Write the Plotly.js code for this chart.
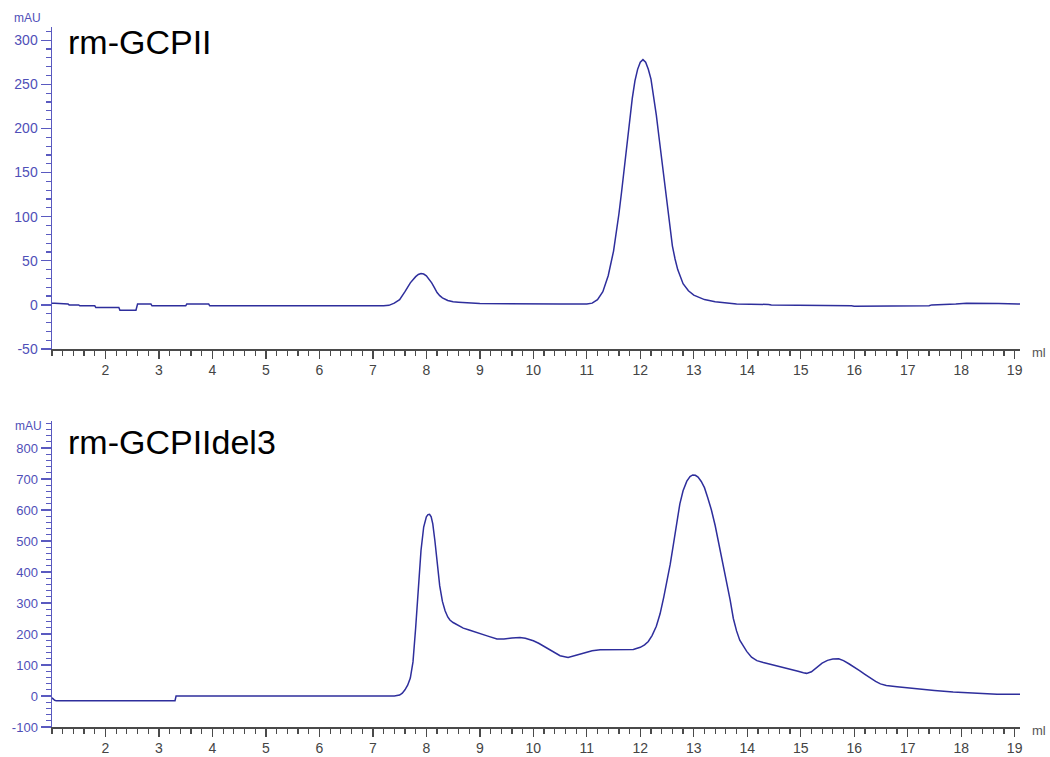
<!DOCTYPE html>
<html>
<head>
<meta charset="utf-8">
<script src="https://cdn.plot.ly/plotly-3.0.1.min.js"></script>
<style>html,body{margin:0;padding:0;background:#fff;}#chart{width:1050px;height:757px;}</style>
</head>
<body>
<div id="chart"></div>
<script>
// ---- Data (elution volume in ml, absorbance in mAU) ----
const topTitle = "rm-GCPII";
const bottomTitle = "rm-GCPIIdel3";

const topVolume = [1.0, 1.05, 1.3, 1.32, 1.5, 1.52, 1.8, 1.82, 2.25, 2.27, 2.57, 2.6, 2.85, 2.87, 3.5, 3.52, 3.93, 3.95,
  7.2, 7.3, 7.4, 7.5, 7.6, 7.7, 7.8, 7.85, 7.9, 7.95, 8.0, 8.05, 8.1, 8.15, 8.2, 8.25, 8.3, 8.4, 8.5, 8.6, 8.8, 9.0, 10.5, 10.9,
  11.0, 11.1, 11.2, 11.3, 11.4, 11.5, 11.55, 11.6, 11.65, 11.7, 11.75, 11.8, 11.85, 11.9, 11.95, 12.0, 12.05, 12.1, 12.15,
  12.2, 12.25, 12.3, 12.35, 12.4, 12.45, 12.5, 12.55, 12.6, 12.65, 12.7, 12.8, 12.9, 13.0, 13.2,
  13.4, 13.8, 14.4, 14.45, 15.95, 16.0, 17.4, 17.45, 17.9, 18.1, 18.7, 19.1];
const topAbs = [2, 2, 1, 0, 0, -1, -1, -3, -3, -6, -6, 1, 1, -1, -1, 1, 1, -1,
  -1, -0.5, 2, 6, 15, 25, 32, 34.5, 35.6, 35, 33, 29.5, 25, 19.5, 14, 10.5, 8, 5, 3.5, 3, 2, 1.5, 1, 0.5,
  1, 2, 6, 15, 33, 61, 80, 103, 128, 155, 182, 210, 234, 254, 267, 275, 278, 275, 267,
  256, 237, 215, 190, 165, 139, 112, 88, 67, 52, 40, 24, 16, 11, 6,
  3.5, 1, 0.5, 0, -1, -1.5, -1, 0, 1, 2, 1.5, 1];

const bottomVolume = [1.0, 1.05, 1.08, 3.3, 3.32, 7.4, 7.5, 7.55, 7.6, 7.65, 7.7, 7.75, 7.8, 7.85, 7.9, 7.95, 8.0, 8.03, 8.06,
  8.09, 8.12, 8.16, 8.19, 8.22, 8.25, 8.3, 8.35, 8.4, 8.44, 8.5, 8.6, 8.69, 8.8, 9.0, 9.15, 9.32, 9.45, 9.6, 9.75, 9.85,
  10.0, 10.1, 10.2, 10.3, 10.37, 10.5, 10.65, 10.8, 10.9, 11.0, 11.1, 11.25, 11.6, 11.87, 12.0, 12.08, 12.15, 12.22, 12.3,
  12.37, 12.44, 12.5, 12.56, 12.62, 12.68, 12.74, 12.8, 12.87, 12.93, 12.98, 13.03, 13.08, 13.14, 13.2, 13.26, 13.33, 13.4,
  13.47, 13.54, 13.62, 13.68, 13.74, 13.8, 13.86, 13.93, 13.99, 14.08, 14.18, 14.3, 14.45, 14.61, 14.8, 14.95, 15.05, 15.11,
  15.2, 15.3, 15.4, 15.5, 15.6, 15.71, 15.8, 15.9, 15.99, 16.1, 16.2, 16.3, 16.4, 16.49, 16.6, 16.8, 17.1, 17.5, 17.85,
  18.3, 18.67, 19.1];
const bottomAbs = [-6, -14, -15, -15, 0, 0, 3, 9, 20, 35, 58, 110, 220, 350, 470, 545, 578, 585, 586,
  578, 555, 500, 443, 395, 355, 305, 275, 255, 245, 237, 228, 219, 213, 203, 193, 184, 184, 187, 189, 186,
  178, 170, 160, 149, 141, 130, 124, 130, 136, 141, 146, 149, 150, 150, 157, 165, 176, 195, 225,
  265, 320, 369, 425, 490, 562, 620, 662, 693, 708, 713, 712, 706, 692, 672, 640, 600, 550,
  490, 430, 369, 310, 250, 210, 180, 160, 144, 125, 114, 108, 102, 95, 87, 80, 75, 73,
  78, 92, 106, 115, 119, 120, 114, 104, 95, 82, 70, 58, 47, 39, 34, 30, 24, 18, 13,
  9, 6, 6];

const xTickVals = [2, 3, 4, 5, 6, 7, 8, 9, 10, 11, 12, 13, 14, 15, 16, 17, 18, 19];
const xTickText = ["2", "3", "4", "5", "6", "7", "8", "9", "10", "11", "12", "13", "14", "15", "16", "17", "18", "19"];
const topYTickVals = [-50, 0, 50, 100, 150, 200, 250, 300];
const topYTickText = ["-50", "0", "50", "100", "150", "200", "250", "300"];
const bottomYTickVals = [-100, 0, 100, 200, 300, 400, 500, 600, 700, 800];
const bottomYTickText = ["-100", "0", "100", "200", "300", "400", "500", "600", "700", "800"];

// ---- Styling ----
const lineColor = "#2e2e9c";
const yAxisColor = "#5a5ac0";
const yLabelColor = "#4f4fb8";
const xAxisColor = "#4a4a4a";
const font = "Liberation Sans, Arial, sans-serif";

function xAxis(anchor) {
  return {
    anchor: anchor,
    domain: [52 / 1050, 1020 / 1050],
    range: [1.0, 19.1],
    tickmode: "array", tickvals: xTickVals, ticktext: xTickText,
    ticks: "outside", ticklen: 8, tickwidth: 1.3, tickcolor: xAxisColor,
    minor: { tickmode: "linear", tick0: 0, dtick: 0.2, ticks: "outside", ticklen: 5, tickwidth: 1.2, tickcolor: xAxisColor },
    showline: true, linecolor: xAxisColor, linewidth: 1.5,
    showgrid: false, zeroline: false,
    tickfont: { family: font, size: 14, color: "#444" },
    fixedrange: true
  };
}
function yAxis(anchor, domain, range, vals, text, minorStep, fontSize) {
  return {
    anchor: anchor,
    domain: domain,
    range: range,
    tickmode: "array", tickvals: vals, ticktext: text,
    ticks: "outside", ticklen: 10, tickwidth: 1.3, tickcolor: yAxisColor,
    minor: { tickmode: "linear", tick0: 0, dtick: minorStep, ticks: "outside", ticklen: 5, tickwidth: 1.2, tickcolor: yAxisColor },
    showline: true, linecolor: yAxisColor, linewidth: 1.5,
    showgrid: false, zeroline: false,
    tickfont: { family: font, size: fontSize, color: yLabelColor },
    fixedrange: true
  };
}

const traces = [
  { x: topVolume, y: topAbs, xaxis: "x", yaxis: "y", type: "scatter", mode: "lines",
    line: { color: lineColor, width: 1.5 }, hoverinfo: "x+y" },
  { x: bottomVolume, y: bottomAbs, xaxis: "x2", yaxis: "y2", type: "scatter", mode: "lines",
    line: { color: lineColor, width: 1.5 }, hoverinfo: "x+y" }
];

const layout = {
  width: 1050, height: 757,
  margin: { l: 0, r: 0, t: 0, b: 0 },
  paper_bgcolor: "#ffffff", plot_bgcolor: "#ffffff",
  showlegend: false,
  xaxis: xAxis("y"),
  yaxis: yAxis("x", [1 - 349 / 757, 1 - 27 / 757], [-50, 315], topYTickVals, topYTickText, 10, 14),
  xaxis2: xAxis("y2"),
  yaxis2: yAxis("x2", [1 - 727 / 757, 1 - 421 / 757], [-100, 887], bottomYTickVals, bottomYTickText, 20, 13),
  annotations: [
    { text: topTitle, xref: "paper", yref: "paper", x: 66 / 1050, y: 1 - 42 / 757, xanchor: "left", yanchor: "middle",
      showarrow: false, font: { family: font, size: 34, color: "#000" } },
    { text: bottomTitle, xref: "paper", yref: "paper", x: 66 / 1050, y: 1 - 442 / 757, xanchor: "left", yanchor: "middle",
      showarrow: false, font: { family: font, size: 34, color: "#000" } },
    { text: "mAU", xref: "paper", yref: "paper", x: 12 / 1050, y: 1 - 18 / 757, xanchor: "left", yanchor: "middle",
      showarrow: false, font: { family: font, size: 12, color: yLabelColor } },
    { text: "mAU", xref: "paper", yref: "paper", x: 13 / 1050, y: 1 - 426 / 757, xanchor: "left", yanchor: "middle",
      showarrow: false, font: { family: font, size: 12, color: yLabelColor } },
    { text: "ml", xref: "paper", yref: "paper", x: 1030 / 1050, y: 1 - 352 / 757, xanchor: "left", yanchor: "middle",
      showarrow: false, font: { family: font, size: 13, color: "#555" } },
    { text: "ml", xref: "paper", yref: "paper", x: 1030 / 1050, y: 1 - 730 / 757, xanchor: "left", yanchor: "middle",
      showarrow: false, font: { family: font, size: 13, color: "#555" } }
  ]
};

Plotly.newPlot("chart", traces, layout, { displayModeBar: false, staticPlot: true });
</script>
</body>
</html>
